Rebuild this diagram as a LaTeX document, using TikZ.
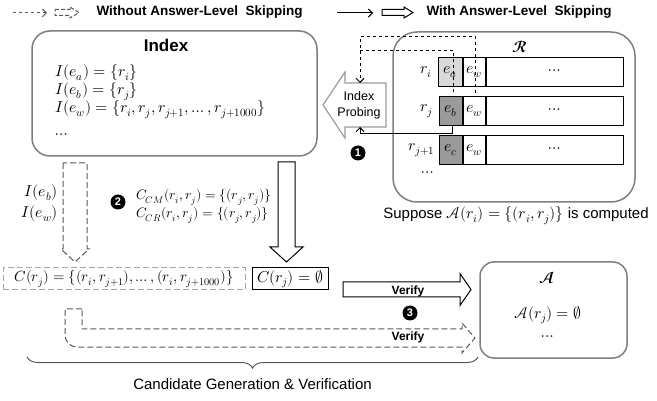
\documentclass[tikz,border=0pt]{standalone}
\usepackage{amsmath}
\usepackage{fontspec}
\usepackage{unicode-math}
\setmainfont{Liberation Sans}
\setmathfont{Latin Modern Math}[Scale=1.05]
\usetikzlibrary{positioning, arrows.meta, calc, decorations.pathreplacing}
\definecolor{boxgray}{HTML}{7F7F7F}
\definecolor{dashgray}{HTML}{595959}
\definecolor{lightdash}{HTML}{A6A6A6}
\definecolor{celllight}{HTML}{D9D9D9}
\definecolor{celldark}{HTML}{9A9A9A}

\begin{document}
\begin{tikzpicture}[x=1pt, y=-1pt, >={Straight Barb[length=4pt, width=8pt]}, font=\fontsize{15}{18}\selectfont]
\tikzset{bigbox/.style={draw=boxgray, line width=1.5pt, rounded corners=18pt}, cell/.style={draw, line width=1pt, minimum height=29, inner sep=0pt}, num/.style={circle, fill=black, text=white, inner sep=0pt, minimum size=15, font=\fontsize{11}{11}\selectfont\bfseries}, lbl/.style={anchor=base west, inner sep=0pt}, hollow/.style={draw, line width=1pt, line join=miter}, dhollow/.style={draw=dashgray, line width=1pt, dash pattern=on 6pt off 3pt}, legtext/.style={anchor=west, font=\fontsize{13.5}{14}\selectfont\bfseries}}
\useasboundingbox (0,0) rectangle (657,401);

% legend
\coordinate (d1) at (13,13); \coordinate (d2) at (47,13);
\draw[dashed, dashgray, line width=1pt, ->] (d1) -- (d2);
\draw[dhollow, dash pattern=on 4pt off 2pt] (55,9.5) -- (70,9.5) -- (70,7) -- (79,12.5) -- (70,18) -- (70,15.5) -- (55,15.5) -- cycle;
\node[legtext] (legdash) at (93,12) {Without Answer-Level\ \ Skipping};
\coordinate (s1) at (337,13); \coordinate (s2) at (373,13);
\draw[line width=1pt, ->] (s1) -- (s2);
\draw[hollow] (382,9.5) -- (404,9.5) -- (404,7) -- (413,12.5) -- (404,18) -- (404,15.5) -- (382,15.5) -- cycle;
\node[legtext] (legsolid) at (423,12) {With Answer-Level\ \ Skipping};

% index
\node[bigbox, minimum width=285, minimum height=125] (index) at (174.5,93.5) {};
\node[font=\fontsize{17}{17}\selectfont\bfseries] (indext) at (166,45) {Index};
\node[lbl] (ia) at (55,77) {$I(e_a)=\{r_i\}$};
\node[lbl] (ib) at (55,95) {$I(e_b)=\{r_j\}$};
\node[lbl] (iw) at (55,113) {$I(e_w)=\{r_i,r_j,r_{j+1},\ldots,r_{j+1000}\}$};
\node[lbl] (idots) at (55,139) {$\cdots$};

% R
\node[bigbox, rounded corners=24pt, minimum width=242, minimum height=170] (rbox) at (514,117) {};
\node (rtit) at (520,47) {$\symbfcal{R}$};
\node[cell, fill=celllight, minimum width=24] (ea) at (450,72.5) {$e_a$};
\node[cell, minimum width=22, right=0pt of ea] (ew1) {$e_w$};
\node[cell, minimum width=137, right=0pt of ew1] (rest1) {$\cdots$};
\node[cell, fill=celldark, minimum width=23] (eb) at (450.5,111.5) {$e_b$};
\node[cell, minimum width=22, right=0pt of eb] (ew2) {$e_w$};
\node[cell, minimum width=137, right=0pt of ew2] (rest2) {$\cdots$};
\node[cell, fill=celldark, minimum width=23] (ec) at (450.5,150) {$e_c$};
\node[cell, minimum width=22, right=0pt of ec] (ew3) {$e_w$};
\node[cell, minimum width=137, right=0pt of ew3] (rest3) {$\cdots$};
\node[left=2pt of ea] (ri) {$r_i$};
\node[left=2pt of eb] (rj) {$r_j$};
\node[left=0pt of ec] (rj1) {$r_{j+1}$};
\node (rdots) at (428,174) {$\cdots$};
\node (supp) at (516,216) {Suppose $\mathcal{A}(r_i)=\{(r_i,r_j)\}$ is computed};

% index probing
\draw[draw=boxgray!80, line width=1.2pt, line join=miter] (386,83) -- (345,83) -- (345,72) -- (323,105) -- (345,138) -- (345,127) -- (386,127) -- cycle;
\node[align=center, font=\fontsize{12.5}{16}\selectfont] (probe) at (359,105) {Index\\Probing};
\coordinate (ptop) at (360,83); \coordinate (pbot) at (360,127);
\coordinate (loopa) at (360,51); \coordinate (loopb) at (360,37);
\draw[dashed, line width=1pt] ([shift={(3,5)}]ea.south) |- (loopa);
\draw[dashed, line width=1pt, ->] ([shift={(1,6)}]ew1.south) |- (loopb) -- (ptop);
\draw[line width=1pt, ->] ([shift={(2,0)}]eb.south) -- ++(0,7) -| (pbot);
\node[num] (n1) at (358,153) {1};

% candidate generation
\draw[dhollow] (63,163) -- (63,249) -- (61,249) -- (75,262) -- (89,249) -- (87,249) -- (87,163) -- cycle;
\node[anchor=base east, inner sep=0pt] (leb) at (58,197) {$I(e_b)$};
\node[anchor=base east, inner sep=0pt] (lew) at (58,218) {$I(e_w)$};
\draw[hollow] (278,162) -- (278,247) -- (270,247) -- (286.5,262) -- (303,247) -- (295,247) -- (295,162) -- cycle;
\node[num] (n2) at (118,202) {2};
\node[lbl, font=\fontsize{13}{15}\selectfont] (ccm) at (136,200) {$C_{CM}(r_i,r_j)=\{(r_j,r_j)\}$};
\node[lbl, font=\fontsize{13}{15}\selectfont] (ccr) at (136,218) {$C_{CR}(r_i,r_j)=\{(r_j,r_j)\}$};
\node[draw=lightdash, dash pattern=on 6pt off 3pt, line width=1pt, minimum width=242, minimum height=22, inner sep=0pt, font=\fontsize{14}{16}\selectfont] (cand) at (124,279) {$C(r_j)=\{(r_i,r_{j+1}),\ldots,(r_i,r_{j+1000})\}$};
\node[draw, line width=1pt, minimum width=76, minimum height=22, inner sep=0pt] (empty) at (290,279) {$C(r_j)=\emptyset$};

% verification
\draw[hollow] (343,282) -- (460,282) -- (460,273.5) -- (471,289.5) -- (460,305.5) -- (460,297) -- (343,297) -- cycle;
\node[font=\fontsize{12}{12}\selectfont\bfseries] (ver1) at (408,291) {Verify};
\node[num] (n3) at (410,313) {3};
\draw[dhollow] (82,309) -- (65,309) [rounded corners=12pt] -- (65,347) -- (300,347) [sharp corners] -- (462,347) -- (462,353) -- (475,338) -- (462,323) -- (462,329) -- (82,329) -- cycle;
\node[font=\fontsize{12}{12}\selectfont\bfseries] (ver2) at (408,337) {Verify};
\node[bigbox, rounded corners=14pt, minimum width=147, minimum height=96] (abox) at (553.5,310) {};
\node (atit) at (547,278) {$\symbfcal{A}$};
\node (aval) at (548,315) {$\mathcal{A}(r_j)=\emptyset$};
\node (adots) at (548,338) {$\cdots$};

% brace
\coordinate (bl) at (27,357); \coordinate (br) at (478,357);
\draw[dashgray, line width=1pt, decorate, decoration={brace, mirror, amplitude=11pt}] (bl) -- (br);
\node (cgv) at (252.5,384) {Candidate Generation \& Verification};
\end{tikzpicture}
\end{document}
